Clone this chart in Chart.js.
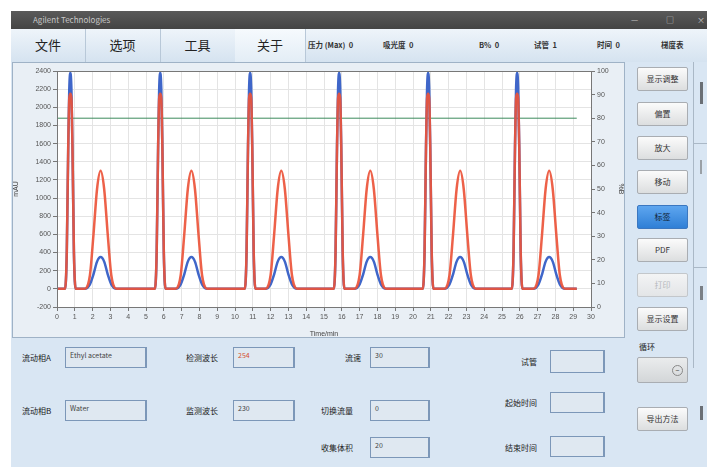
<!DOCTYPE html>
<html>
<head>
<meta charset="utf-8">
<script src="https://cdn.jsdelivr.net/npm/chart.js@4.4.1/dist/chart.umd.min.js"></script>
<style>
  body { margin: 0; width: 707px; height: 467px; background: #fff; position: relative; overflow: hidden;
         font-family: "Noto Sans CJK SC", "Liberation Sans", sans-serif; }
  .abs { position: absolute; }
  #titlebar { left: 11px; top: 11px; width: 696px; height: 18px; background: linear-gradient(#5a5a5a, #444); }
  #titlebar span { position: absolute; top: 3px; color: #c8c8c8; font-size: 8px; }
  #menubar { left: 11px; top: 29px; width: 696px; height: 33px; background: linear-gradient(#eef4fa, #d5e3f0); border-bottom: 1px solid #b9c9da; }
  .menu { position: absolute; top: 0; height: 33px; line-height: 31px; text-align: center; font-size: 13px; color: #222;
          border-right: 1px solid #b8c8d8; }
  .stat { position: absolute; top: 10px; font-size: 7.5px; font-weight: bold; color: #333; white-space: pre; }
  #main { left: 11px; top: 62px; width: 696px; height: 405px; background: #d9e6f3; }
  #frame { left: 12px; top: 62px; width: 613px; height: 276px; background: #e9eff5; border: 1px solid #9fb2c6; box-sizing: border-box; }
  .btn { position: absolute; left: 637px; width: 51px; height: 24px; box-sizing: border-box; border: 1px solid #a9adb2;
         border-radius: 2px; background: linear-gradient(#fbfbfb, #dcdedf); font-size: 8px; color: #333;
         text-align: center; line-height: 22px; }
  .lbl { position: absolute; font-size: 8px; color: #222; white-space: nowrap; }
  .box { position: absolute; box-sizing: border-box; border: 1px solid #7c97b8; border-right-width: 2px; background: #dfe8f1;
         font-size: 7px; color: #444; padding: 2px 0 0 4px; }
</style>
</head>
<body>
<div id="titlebar" class="abs"><span style="left:22px">Agilent Technologies</span>
  <span style="left:620px">—</span><span style="left:655px">□</span><span style="left:686px">×</span></div>
<div id="menubar" class="abs">
  <div class="menu" style="left:0;width:74px">文件</div>
  <div class="menu" style="left:74px;width:75px">选项</div>
  <div class="menu" style="left:149px;width:75px">工具</div>
  <div class="menu" style="left:224px;width:70px;background:linear-gradient(#f6fafd,#e3edf6)">关于</div>
  <div class="stat" style="left:297px">压力 (Max)  0</div>
  <div class="stat" style="left:372px">吸光度  0</div>
  <div class="stat" style="left:468px">B%  0</div>
  <div class="stat" style="left:523px">试管  1</div>
  <div class="stat" style="left:586px">时间  0</div>
  <div class="stat" style="left:650px">梯度表</div>
</div>
<div id="main" class="abs"></div>
<div id="frame" class="abs"></div>
<canvas id="chart" class="abs" style="left:12px;top:62px" width="613" height="276"></canvas>

<div class="btn" style="top:67px">显示调整</div>
<div class="btn" style="top:102px">偏置</div>
<div class="btn" style="top:136px">放大</div>
<div class="btn" style="top:170px">移动</div>
<div class="btn" style="top:205px;background:linear-gradient(#5ea6ef,#2f7fd6);border-color:#3b77c0;color:#123">标签</div>
<div class="btn" style="top:238px">PDF</div>
<div class="btn" style="top:273px;color:#b5b8bb;background:linear-gradient(#f3f4f5,#e3e5e7);border-color:#c3c7cb">打印</div>
<div class="btn" style="top:307px">显示设置</div>
<div class="lbl" style="left:639px;top:341px;font-size:8px">循环</div>
<div class="btn" style="top:357px;height:26px;background:linear-gradient(#eaeced,#d3d6d8)">
  <span style="position:absolute;right:4px;top:7px;width:9px;height:9px;border:1px solid #888;border-radius:50%;line-height:8px;font-size:7px">−</span></div>
<div class="btn" style="top:407px">导出方法</div>

<div class="abs" style="left:693px;top:62px;width:1px;height:306px;background:#aab8c6"></div>
<div class="abs" style="left:693px;top:143px;width:14px;height:1px;background:#aab8c6"></div>
<div class="abs" style="left:693px;top:267px;width:14px;height:1px;background:#aab8c6"></div>
<div class="abs" style="left:700px;top:82px;width:3px;height:22px;background:#6a6f75"></div>
<div class="abs" style="left:700px;top:160px;width:2px;height:14px;background:#9aa0a6"></div>
<div class="abs" style="left:700px;top:286px;width:3px;height:14px;background:#7a7f85"></div>
<div class="abs" style="left:700px;top:406px;width:3px;height:14px;background:#6a6f75"></div>

<div class="lbl" style="left:22px;top:352px">流动相A</div>
<div class="box" style="left:65px;top:347px;width:82px;height:21px">Ethyl acetate</div>
<div class="lbl" style="left:186px;top:352px">检测波长</div>
<div class="box" style="left:233px;top:347px;width:62px;height:21px;color:#d4502e">254</div>
<div class="lbl" style="left:345px;top:352px">流速</div>
<div class="box" style="left:370px;top:347px;width:60px;height:21px">30</div>
<div class="lbl" style="left:521px;top:356px">试管</div>
<div class="box" style="left:550px;top:350px;width:55px;height:23px"></div>

<div class="lbl" style="left:22px;top:405px">流动相B</div>
<div class="box" style="left:65px;top:400px;width:82px;height:21px">Water</div>
<div class="lbl" style="left:186px;top:405px">监测波长</div>
<div class="box" style="left:233px;top:400px;width:62px;height:21px">230</div>
<div class="lbl" style="left:321px;top:405px">切换流量</div>
<div class="box" style="left:370px;top:400px;width:60px;height:21px">0</div>
<div class="lbl" style="left:505px;top:397px">起始时间</div>
<div class="box" style="left:550px;top:392px;width:55px;height:21px"></div>

<div class="lbl" style="left:321px;top:442px">收集体积</div>
<div class="box" style="left:370px;top:437px;width:60px;height:21px">20</div>
<div class="lbl" style="left:505px;top:442px">结束时间</div>
<div class="box" style="left:550px;top:436px;width:55px;height:21px"></div>

<script>
// time axis (min) for both detector traces
var timeMin = [0,
  0.45, 0.55, 0.63, 0.69, 0.75, 0.81, 0.87, 0.95, 1.05,
  1.55, 1.85, 2.05, 2.25, 2.45, 2.65, 2.85, 3.05, 3.35,
  5.5, 5.6, 5.68, 5.74, 5.8, 5.86, 5.92, 6.0, 6.1,
  6.65, 6.95, 7.15, 7.35, 7.55, 7.75, 7.95, 8.15, 8.45,
  10.55, 10.65, 10.73, 10.79, 10.85, 10.91, 10.97, 11.05, 11.15,
  11.7, 12.0, 12.2, 12.4, 12.6, 12.8, 13.0, 13.2, 13.5,
  15.55, 15.65, 15.73, 15.79, 15.85, 15.91, 15.97, 16.05, 16.15,
  16.7, 17.0, 17.2, 17.4, 17.6, 17.8, 18.0, 18.2, 18.5,
  20.55, 20.65, 20.73, 20.79, 20.85, 20.91, 20.97, 21.05, 21.15,
  21.75, 22.05, 22.25, 22.45, 22.65, 22.85, 23.05, 23.25, 23.55,
  25.55, 25.65, 25.73, 25.79, 25.85, 25.91, 25.97, 26.05, 26.15,
  26.75, 27.05, 27.25, 27.45, 27.65, 27.85, 28.05, 28.25, 28.55,
  29.2];

// 254 nm trace (red), mAU
var redTrace = [0,
  0, 420, 1550, 2100, 2150, 2100, 1550, 420, 0,   0, 150, 600, 1100, 1300, 1100, 600, 150, 0,
  0, 420, 1550, 2100, 2150, 2100, 1550, 420, 0,   0, 150, 600, 1100, 1300, 1100, 600, 150, 0,
  0, 420, 1550, 2100, 2150, 2100, 1550, 420, 0,   0, 150, 600, 1100, 1300, 1100, 600, 150, 0,
  0, 420, 1550, 2100, 2150, 2100, 1550, 420, 0,   0, 150, 600, 1100, 1300, 1100, 600, 150, 0,
  0, 420, 1550, 2100, 2150, 2100, 1550, 420, 0,   0, 150, 600, 1100, 1300, 1100, 600, 150, 0,
  0, 420, 1550, 2100, 2150, 2100, 1550, 420, 0,   0, 150, 600, 1100, 1300, 1100, 600, 150, 0,
  0];

// 230 nm trace (blue), mAU
var blueTrace = [0,
  0, 400, 1550, 2200, 2380, 2200, 1550, 400, 0,   0, 50, 160, 300, 350, 300, 160, 50, 0,
  0, 400, 1550, 2200, 2380, 2200, 1550, 400, 0,   0, 50, 160, 300, 350, 300, 160, 50, 0,
  0, 400, 1550, 2200, 2380, 2200, 1550, 400, 0,   0, 50, 160, 300, 350, 300, 160, 50, 0,
  0, 400, 1550, 2200, 2380, 2200, 1550, 400, 0,   0, 50, 160, 300, 350, 300, 160, 50, 0,
  0, 400, 1550, 2200, 2380, 2200, 1550, 400, 0,   0, 50, 160, 300, 350, 300, 160, 50, 0,
  0, 400, 1550, 2200, 2380, 2200, 1550, 400, 0,   0, 50, 160, 300, 350, 300, 160, 50, 0,
  0];

// solvent B % (green)
var gradientTime = [0, 29.2];
var gradientB = [80, 80];

function toPoints(xs, ys) {
  return xs.map(function(x, i) { return { x: x, y: ys[i] }; });
}

var tickFont = { family: "Liberation Sans", size: 7 };
var plainLabel = function(v) { return String(v); };

var plotFrame = {
  id: 'plotFrame',
  beforeDraw: function(chart) {
    var a = chart.chartArea, ctx = chart.ctx;
    ctx.save();
    ctx.fillStyle = '#ffffff';
    ctx.fillRect(a.left, a.top, a.right - a.left, a.bottom - a.top);
    ctx.restore();
  },
  afterDraw: function(chart) {
    var a = chart.chartArea, ctx = chart.ctx;
    ctx.save();
    ctx.strokeStyle = '#777';
    ctx.lineWidth = 1;
    ctx.strokeRect(a.left + 0.5, a.top + 0.5, a.right - a.left, a.bottom - a.top);
    ctx.restore();
  }
};

// first dataset is painted last, so red sits over blue
var chart = new Chart(document.getElementById('chart'), {
  type: 'line',
  data: {
    datasets: [
      { data: toPoints(timeMin, redTrace), borderColor: 'rgba(236,84,58,0.92)', borderWidth: 2.5, pointRadius: 0,
        cubicInterpolationMode: 'monotone', yAxisID: 'y' },
      { data: toPoints(timeMin, blueTrace), borderColor: '#3f66c9', borderWidth: 2.5, pointRadius: 0,
        cubicInterpolationMode: 'monotone', yAxisID: 'y' },
      { data: toPoints(gradientTime, gradientB), borderColor: '#3c8a5c', borderWidth: 1, pointRadius: 0,
        yAxisID: 'y1' }
    ]
  },
  options: {
    responsive: false,
    animation: false,
    layout: { autoPadding: false, padding: { top: 9, left: 0, right: 0, bottom: 0 } },
    plugins: { legend: { display: false }, tooltip: { enabled: false } },
    scales: {
      x: {
        type: 'linear', min: 0, max: 30,
        ticks: { stepSize: 1, font: tickFont, color: '#555', padding: 2, callback: plainLabel },
        grid: { color: '#e4e4e4', tickLength: 4, tickColor: '#777' },
        border: { display: false },
        title: { display: true, text: 'Time/min', font: tickFont, color: '#444', padding: 0 },
        afterFit: function(s) { s.height = 31; }
      },
      y: {
        position: 'left', min: -200, max: 2400,
        ticks: { stepSize: 200, font: tickFont, color: '#555', padding: 2, callback: plainLabel },
        grid: { color: '#e4e4e4', tickLength: 4, tickColor: '#777' },
        border: { display: false },
        title: { display: true, text: 'mAU', font: tickFont, color: '#444', padding: { top: 0, bottom: 4 } },
        afterFit: function(s) { s.width = 45; }
      },
      y1: {
        position: 'right', min: 0, max: 100,
        ticks: { stepSize: 10, font: tickFont, color: '#555', padding: 2, callback: plainLabel },
        grid: { drawOnChartArea: false, tickLength: 4, tickColor: '#777' },
        border: { display: false },
        title: { display: true, text: '%B', font: tickFont, color: '#444', padding: 0 },
        afterFit: function(s) { s.width = 34; }
      }
    }
  },
  plugins: [plotFrame]
});
</script>
</body>
</html>
